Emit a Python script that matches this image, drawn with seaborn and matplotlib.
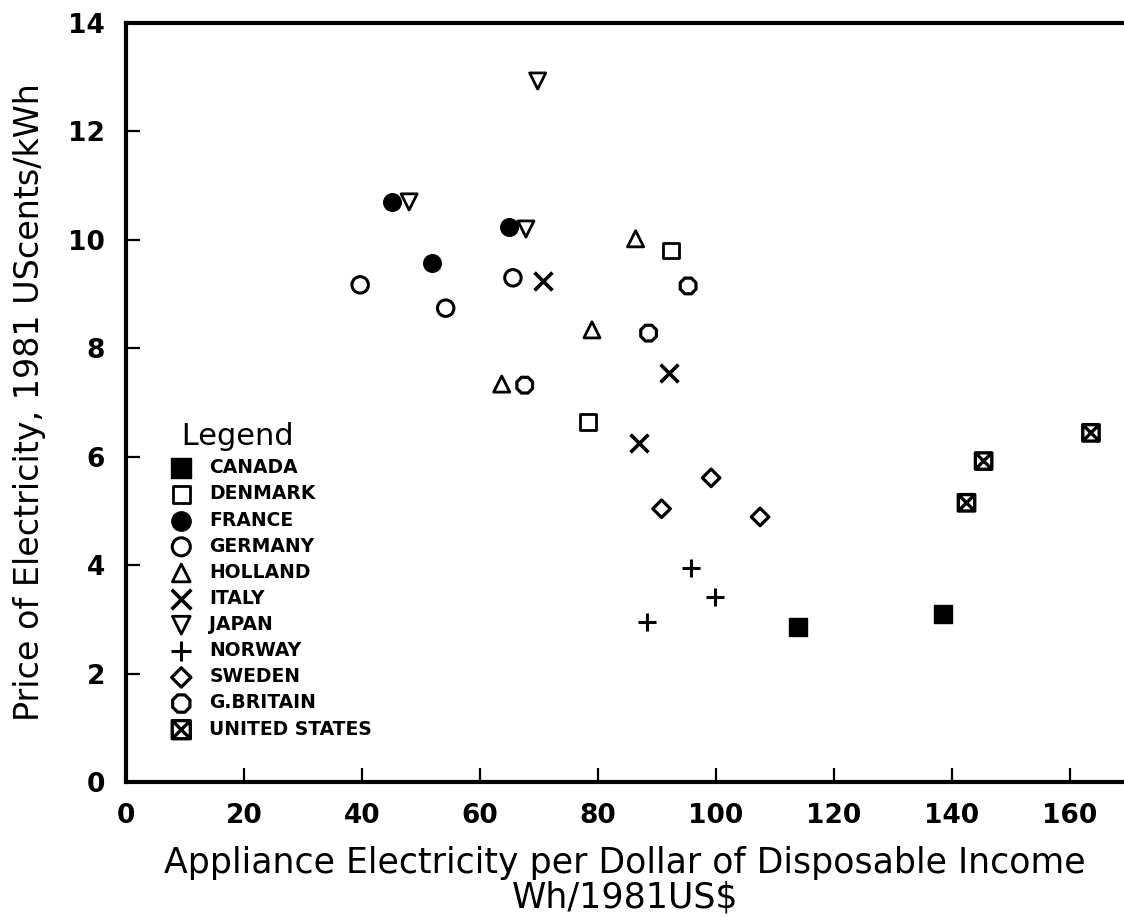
import numpy as np
import pandas as pd
import matplotlib
matplotlib.use("Agg")
import matplotlib.pyplot as plt
from matplotlib.path import Path
from matplotlib.markers import MarkerStyle
import seaborn as sns

# ---------------- data ----------------
countries = ["CANADA", "DENMARK", "FRANCE", "GERMANY", "HOLLAND", "ITALY",
             "JAPAN", "NORWAY", "SWEDEN", "G.BRITAIN", "UNITED STATES"]

canada_x = [113.9, 138.5]
canada_y = [2.86, 3.10]
denmark_x = [92.4, 78.3]
denmark_y = [9.80, 6.64]
france_x = [45.1, 64.9, 51.9]
france_y = [10.70, 10.24, 9.57]
germany_x = [39.7, 65.6, 54.2]
germany_y = [9.17, 9.30, 8.74]
holland_x = [86.4, 79.0, 63.7]
holland_y = [10.02, 8.34, 7.34]
italy_x = [70.7, 92.0, 86.9]
italy_y = [9.24, 7.55, 6.25]
japan_x = [69.8, 48.0, 67.8]
japan_y = [12.93, 10.70, 10.20]
norway_x = [95.8, 99.8, 88.3]
norway_y = [3.95, 3.41, 2.95]
sweden_x = [99.2, 90.8, 107.5]
sweden_y = [5.61, 5.04, 4.89]
britain_x = [95.3, 88.6, 67.6]
britain_y = [9.15, 8.28, 7.32]
usa_x = [163.6, 145.4, 142.5]
usa_y = [6.44, 5.92, 5.15]

x_ticks = [0, 20, 40, 60, 80, 100, 120, 140, 160]
y_ticks = [0, 2, 4, 6, 8, 10, 12, 14]

xs = [canada_x, denmark_x, france_x, germany_x, holland_x, italy_x,
      japan_x, norway_x, sweden_x, britain_x, usa_x]
ys = [canada_y, denmark_y, france_y, germany_y, holland_y, italy_y,
      japan_y, norway_y, sweden_y, britain_y, usa_y]

rows = []
for c, xx, yy in zip(countries, xs, ys):
    for a, b in zip(xx, yy):
        rows.append({"country": c, "x": a, "y": b})
df = pd.DataFrame(rows)

# ---------------- styling ----------------
sns.set_theme(style="white")
plt.rcParams["font.family"] = ["DejaVu Sans"]

# square with an X inside (United States)
usa_path = Path(
    [(-1, -1), (1, -1), (1, 1), (-1, 1), (-1, -1),
     (-1, -1), (1, 1), (-1, 1), (1, -1)],
    [Path.MOVETO, Path.LINETO, Path.LINETO, Path.LINETO, Path.CLOSEPOLY,
     Path.MOVETO, Path.LINETO, Path.MOVETO, Path.LINETO])

# marker, size, filled, linewidth
styles = {
    "CANADA":        ("s", 170, True, 1.0),
    "DENMARK":       ("s", 125, False, 2.0),
    "FRANCE":        ("o", 160, True, 1.0),
    "GERMANY":       ("o", 140, False, 2.2),
    "HOLLAND":       ("^", 135, False, 2.0),
    "ITALY":         ("x", 165, None, 2.6),
    "JAPAN":         ("v", 135, False, 2.0),
    "NORWAY":        ("+", 175, None, 2.2),
    "SWEDEN":        ("D", 80, False, 2.3),
    "G.BRITAIN":     ("8", 150, False, 2.3),
    "UNITED STATES": (MarkerStyle(usa_path), 140, False, 2.4),
}

fig = plt.figure(figsize=(11.24, 9.18), dpi=100)
ax = fig.add_axes([126 / 1124, 1 - 782 / 918, (1124 - 126) / 1124, (782 - 23) / 918])

for c in countries:
    m, s, filled, lw = styles[c]
    sub = df[df["country"] == c]
    if filled is None:
        sns.scatterplot(data=sub, x="x", y="y", marker=m, s=s, color="black",
                        linewidth=lw, label=c, ax=ax, zorder=3)
    elif filled:
        sns.scatterplot(data=sub, x="x", y="y", marker=m, s=s,
                        facecolor="black", edgecolor="black",
                        linewidth=lw, label=c, ax=ax, zorder=3)
    else:
        sns.scatterplot(data=sub, x="x", y="y", marker=m, s=s,
                        facecolor="none", edgecolor="black",
                        linewidth=lw, label=c, ax=ax, zorder=3)

ax.set_xlim(0, 169.2)
ax.set_ylim(0, 14)
ax.set_xticks(x_ticks)
ax.set_yticks(y_ticks)
ax.set_xticklabels([str(v) for v in x_ticks], fontsize=19, fontweight="bold")
ax.set_yticklabels([str(v) for v in y_ticks], fontsize=19, fontweight="bold")
ax.tick_params(axis="both", direction="in", length=10, width=1.6,
               pad=15, colors="black", bottom=True, left=True, top=False, right=False)

for side in ["left", "bottom", "top"]:
    ax.spines[side].set_visible(True)
    ax.spines[side].set_color("black")
    ax.spines[side].set_linewidth(3)
ax.spines["right"].set_visible(False)

ax.set_xlabel("Appliance Electricity per Dollar of Disposable Income\nWh/1981US$",
              fontsize=25, labelpad=12, linespacing=1.02, color="black")
ax.set_ylabel("Price of Electricity, 1981 UScents/kWh",
              fontsize=24, labelpad=16, color="black")

handles, labels = ax.get_legend_handles_labels()
leg = ax.legend(handles, labels, title=" Legend", loc="upper left",
                bbox_to_anchor=(0.046, 0.474), frameon=False,
                prop={"weight": "bold", "size": 13.5}, title_fontsize=22,
                handlelength=1.0, handletextpad=1.0, labelspacing=0.38,
                borderpad=0, borderaxespad=0, alignment="left", markerscale=1.1)
for t in leg.get_texts():
    t.set_color("black")
leg.get_title().set_color("black")

fig.savefig("out.png", dpi=100, facecolor="white")
